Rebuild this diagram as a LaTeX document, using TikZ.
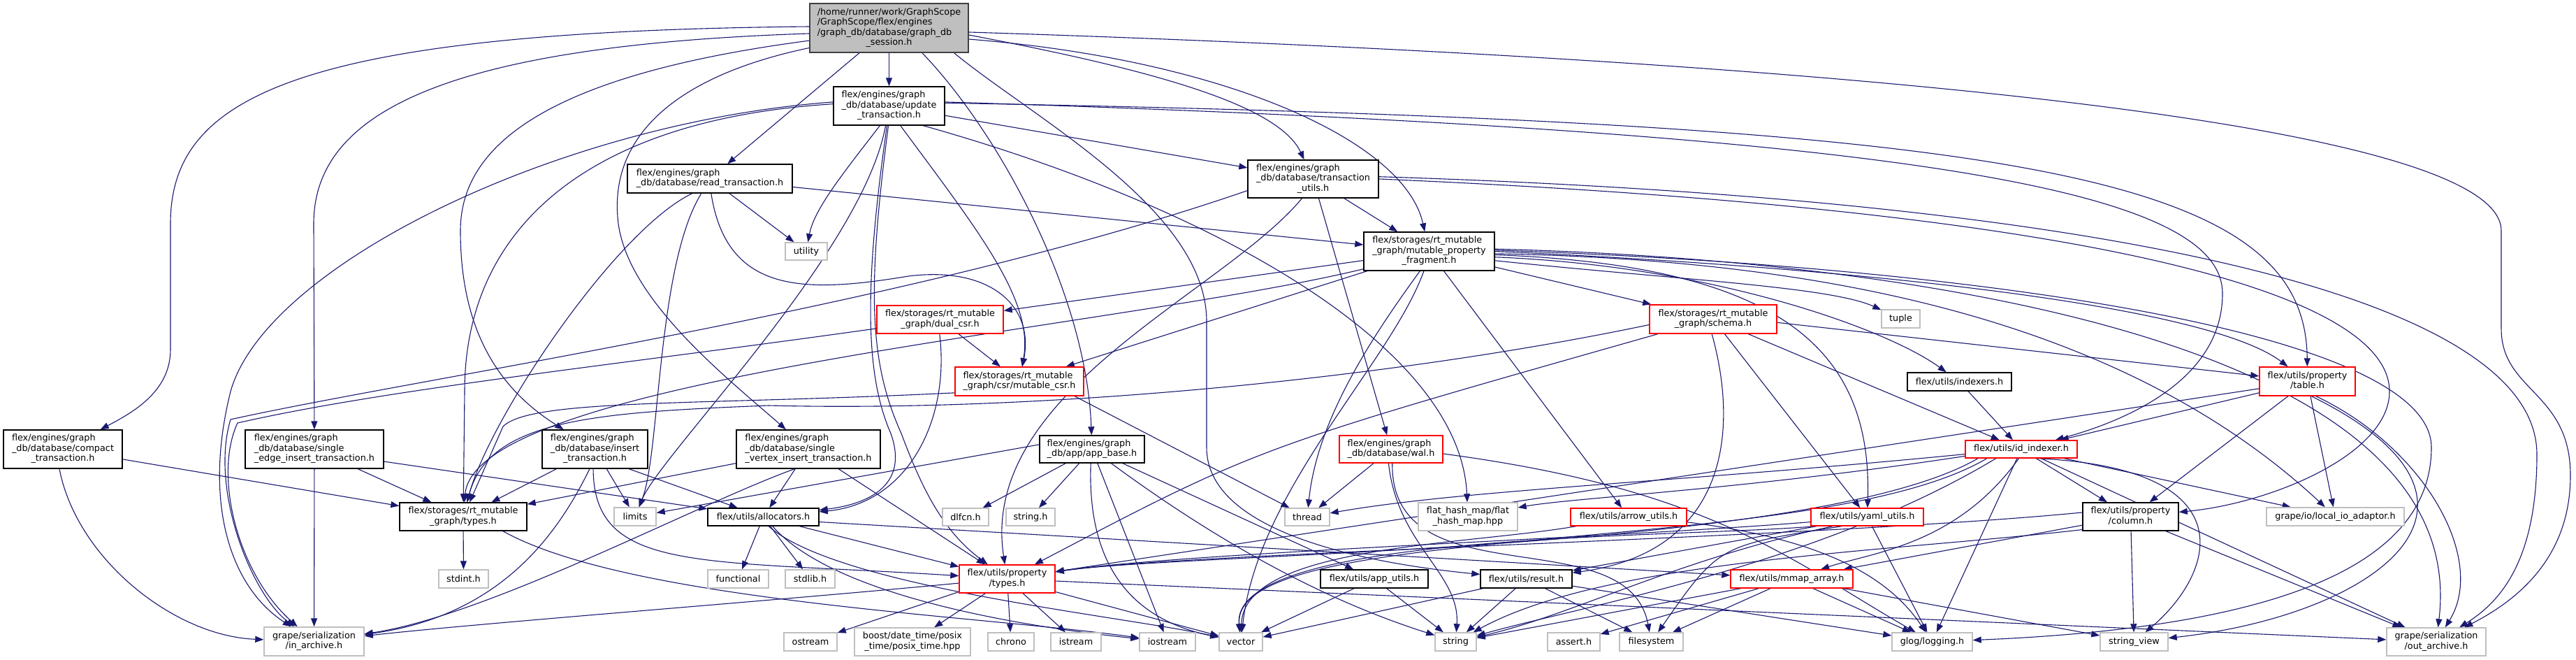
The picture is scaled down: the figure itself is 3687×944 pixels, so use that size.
\documentclass[tikz,border=0pt]{standalone}
\usepackage{fontspec}
\setmainfont{DejaVu Sans}
\usetikzlibrary{arrows.meta}
\definecolor{eblue}{HTML}{191970}
\definecolor{gbord}{HTML}{BFBFBF}
\definecolor{rootfill}{HTML}{BFBFBF}
\definecolor{rootbord}{HTML}{404040}
\newcommand\lbl[2]{\begin{tabular}{@{}l@{}}#1\\\multicolumn{1}{@{}c@{}}{#2}\end{tabular}}
\pgfdeclarelayer{bg}
\pgfsetlayers{bg,main}
\tikzset{
  base/.style={rectangle, line width=1.4pt, inner sep=0pt, font=\fontsize{12.8}{14.5}\selectfont, text=black},
  nb/.style={base, draw=black, fill=white},
  nr/.style={base, draw=red, fill=white},
  ng/.style={base, draw=gbord, fill=white},
  nroot/.style={base, draw=rootbord, fill=rootfill},
  edg/.style={draw=eblue, line width=1.1pt, -{Triangle[length=12pt,width=9pt]}}
}
\begin{document}
\begin{tikzpicture}[x=1pt,y=-1pt]
\useasboundingbox (0,0) rectangle (3687,944);
% nodes
\node[nroot,minimum width=227pt,minimum height=70pt] (root) at (1272.5,40) {\lbl{/home/runner/work/GraphScope\\/GraphScope/flex/engines\\/graph\_db/database/graph\_db}{\_session.h}};
\node[nb,minimum width=159pt,minimum height=55pt] (upd) at (1272.5,151.5) {\lbl{flex/engines/graph\\\_db/database/update}{\_transaction.h}};
\node[nb,minimum width=236pt,minimum height=41pt] (rd) at (1016,255.5) {\lbl{flex/engines/graph}{\_db/database/read\_transaction.h}};
\node[nb,minimum width=187pt,minimum height=54pt] (tut) at (1879.5,256) {\lbl{flex/engines/graph\\\_db/database/transaction}{\_utils.h}};
\node[nb,minimum width=187pt,minimum height=55pt] (mpf) at (2045.5,359.5) {\lbl{flex/storages/rt\_mutable\\\_graph/mutable\_property}{\_fragment.h}};
\node[ng,minimum width=60pt,minimum height=25pt] (util) at (1154,359.5) {utility};
\node[nr,minimum width=181pt,minimum height=40pt] (dcsr) at (1345.5,457) {\lbl{flex/storages/rt\_mutable}{\_graph/dual\_csr.h}};
\node[nr,minimum width=182pt,minimum height=41pt] (schema) at (2452,456.5) {\lbl{flex/storages/rt\_mutable}{\_graph/schema.h}};
\node[ng,minimum width=55pt,minimum height=26pt] (tuple) at (2720.5,456) {tuple};
\node[nr,minimum width=184pt,minimum height=41pt] (mcsr) at (1459,545.5) {\lbl{flex/storages/rt\_mutable}{\_graph/csr/mutable\_csr.h}};
\node[nb,minimum width=149pt,minimum height=26pt] (idxs) at (2804.5,546) {flex/utils/indexers.h};
\node[nr,minimum width=137pt,minimum height=41pt] (table) at (3302.5,545.5) {\lbl{flex/utils/property}{/table.h}};
\node[nb,minimum width=170pt,minimum height=55pt] (compact) at (90,642.5) {\lbl{flex/engines/graph\\\_db/database/compact}{\_transaction.h}};
\node[nb,minimum width=198pt,minimum height=55pt] (sedge) at (450,642.5) {\lbl{flex/engines/graph\\\_db/database/single}{\_edge\_insert\_transaction.h}};
\node[nb,minimum width=151pt,minimum height=55pt] (ins) at (851.5,642.5) {\lbl{flex/engines/graph\\\_db/database/insert}{\_transaction.h}};
\node[nb,minimum width=206pt,minimum height=55pt] (svtx) at (1157,642.5) {\lbl{flex/engines/graph\\\_db/database/single}{\_vertex\_insert\_transaction.h}};
\node[nb,minimum width=150pt,minimum height=39pt] (appb) at (1563,642.5) {\lbl{flex/engines/graph}{\_db/app/app\_base.h}};
\node[nr,minimum width=148pt,minimum height=39pt] (wal) at (1991,642.5) {\lbl{flex/engines/graph}{\_db/database/wal.h}};
\node[nr,minimum width=160pt,minimum height=25pt] (idx) at (2893,642.5) {flex/utils/id\_indexer.h};
\node[nb,minimum width=182pt,minimum height=40pt] (rtypes) at (663,739) {\lbl{flex/storages/rt\_mutable}{\_graph/types.h}};
\node[ng,minimum width=60pt,minimum height=26pt] (limits) at (909,739) {limits};
\node[nb,minimum width=159pt,minimum height=25pt] (alloc) at (1092.5,739.5) {flex/utils/allocators.h};
\node[ng,minimum width=66pt,minimum height=25pt] (dlfcn) at (1382,739.5) {dlfcn.h};
\node[ng,minimum width=70pt,minimum height=25pt] (strh) at (1475,739.5) {string.h};
\node[ng,minimum width=64pt,minimum height=25pt] (thread) at (1871,739.5) {thread};
\node[ng,minimum width=142pt,minimum height=40pt] (flat) at (2101,739) {\lbl{flat\_hash\_map/flat}{\_hash\_map.hpp}};
\node[nr,minimum width=166pt,minimum height=25pt] (arrowu) at (2331,739.5) {flex/utils/arrow\_utils.h};
\node[nr,minimum width=161pt,minimum height=25pt] (yaml) at (2672.5,739.5) {flex/utils/yaml\_utils.h};
\node[nb,minimum width=137pt,minimum height=40pt] (column) at (3049.5,739) {\lbl{flex/utils/property}{/column.h}};
\node[ng,minimum width=197pt,minimum height=26pt] (localio) at (3342.5,739) {grape/io/local\_io\_adaptor.h};
\node[ng,minimum width=71pt,minimum height=26pt] (stdint) at (663.5,828) {stdint.h};
\node[ng,minimum width=87pt,minimum height=26pt] (functional) at (1056.5,828) {functional};
\node[ng,minimum width=71pt,minimum height=26pt] (stdlib) at (1159.5,828) {stdlib.h};
\node[nr,minimum width=137pt,minimum height=40pt] (ptypes) at (1441.5,828) {\lbl{flex/utils/property}{/types.h}};
\node[nb,minimum width=154pt,minimum height=26pt] (appu) at (1967,828) {flex/utils/app\_utils.h};
\node[nb,minimum width=131pt,minimum height=26pt] (result) at (2184.5,828) {flex/utils/result.h};
\node[nr,minimum width=175pt,minimum height=26pt] (mmap) at (2564.5,828) {flex/utils/mmap\_array.h};
\node[ng,minimum width=143pt,minimum height=41pt] (inarch) at (449.5,917.5) {\lbl{grape/serialization}{/in\_archive.h}};
\node[ng,minimum width=76pt,minimum height=26pt] (ostream) at (1160,918) {ostream};
\node[ng,minimum width=166pt,minimum height=40pt] (boost) at (1306,918) {\lbl{boost/date\_time/posix}{\_time/posix\_time.hpp}};
\node[ng,minimum width=66pt,minimum height=26pt] (chrono) at (1447,918) {chrono};
\node[ng,minimum width=72pt,minimum height=26pt] (istream) at (1540,918) {istream};
\node[ng,minimum width=80pt,minimum height=26pt] (iostream) at (1671,918) {iostream};
\node[ng,minimum width=62pt,minimum height=26pt] (vector) at (1776,918) {vector};
\node[ng,minimum width=59pt,minimum height=26pt] (string) at (2083.5,918) {string};
\node[ng,minimum width=75pt,minimum height=26pt] (asserth) at (2252.5,918) {assert.h};
\node[ng,minimum width=91pt,minimum height=26pt] (fs) at (2363.5,918) {filesystem};
\node[ng,minimum width=115pt,minimum height=26pt] (glog) at (2765.5,918) {glog/logging.h};
\node[ng,minimum width=97pt,minimum height=26pt] (sview) at (3054.5,918) {string\_view};
\node[ng,minimum width=142pt,minimum height=40pt] (outarch) at (3487,918) {\lbl{grape/serialization}{/out\_archive.h}};

\begin{pgfonlayer}{bg}
\fill[white] (0,0) rectangle (3687,944);
% root
\draw[edg] (root.179) .. controls (420,45) and (244,140) .. (244,320) -- (244,500) .. controls (244,560) and (190,590) .. (compact);
\draw[edg] (root.184) .. controls (640,65) and (449,160) .. (449,320) -- (sedge);
\draw[edg] (root.189) .. controls (800,105) and (659,200) .. (659,330) .. controls (659,480) and (720,560) .. (ins);
\draw[edg] (root.194) .. controls (960,110) and (870,200) .. (885,320) .. controls (900,430) and (1040,540) .. (svtx);
\draw[edg] (root) -- (rd);
\draw[edg] (root) -- (upd);
\draw[edg] (root.-37) .. controls (1430,190) and (1555,420) .. (appb);
\draw[edg] (root.-3) .. controls (2300,75) and (3580,150) .. (3580,330) -- (3580,470) .. controls (3580,560) and (3679,560) .. (3679,680) .. controls (3679,800) and (3600,860) .. (outarch);
\draw[edg] (root.-5) .. controls (1650,100) and (1830,150) .. (tut);
\draw[edg] (root.-8) .. controls (1750,85) and (2010,200) .. (mpf);
\draw[edg] (root.-21) .. controls (1480,170) and (1727,300) .. (1727,460) -- (1727,640) .. controls (1727,760) and (1950,805) .. (result);
% update_transaction
\draw[edg] (upd.-115) .. controls (1205,250) and (1165,300) .. (util);
\draw[edg] (upd.-100) .. controls (1235,360) and (945,650) .. (limits);
\draw[edg] (upd.176) .. controls (800,175) and (380,380) .. (330,560) .. controls (290,720) and (330,840) .. (inarch);
\draw[edg] (upd.178) .. controls (850,170) and (665,320) .. (665,560) -- (rtypes);
\draw[edg] (upd.-96) .. controls (1235,420) and (1240,540) .. (1275,620) .. controls (1300,690) and (1250,720) .. (alloc);
\draw[edg] (upd.-92) .. controls (1240,420) and (1245,520) .. (1290,620) .. controls (1320,700) and (1350,760) .. (ptypes);
\draw[edg] (upd.-60) .. controls (1400,330) and (1480,430) .. (mcsr);
\draw[edg] (upd.-30) .. controls (1750,300) and (2090,500) .. (flat);
\draw[edg] (upd) -- (tut);
\draw[edg] (upd.3) .. controls (2900,175) and (3300,250) .. (table);
\draw[edg] (upd.4) .. controls (2800,190) and (3181,280) .. (3181,420) .. controls (3181,540) and (3050,600) .. (idx);
% read_transaction
\draw[edg] (rd) -- (util);
\draw[edg] (rd.-120) .. controls (940,380) and (945,650) .. (limits);
\draw[edg] (rd.-140) .. controls (880,330) and (700,600) .. (rtypes);
\draw[edg] (rd) -- (mpf);
\draw[edg] (rd.-85) .. controls (1040,420) and (1150,420) .. (1300,395) .. controls (1420,380) and (1480,440) .. (mcsr);
% transaction_utils
\draw[edg] (tut) -- (mpf);
\draw[edg] (tut) -- (wal);
\draw[edg] (tut.-170) .. controls (1300,440) and (600,540) .. (330,600) .. controls (300,700) and (360,850) .. (inarch);
\draw[edg] (tut.-120) .. controls (1750,420) and (1400,560) .. (ptypes);
\draw[edg] (tut.2) .. controls (3000,285) and (3631,420) .. (3631,650) .. controls (3631,800) and (3580,860) .. (outarch);
\draw[edg] (tut.0) .. controls (3000,300) and (3420,420) .. (3420,560) .. controls (3420,650) and (3250,720) .. (column);
% mutable_property_fragment
\draw[edg] (mpf) -- (dcsr);
\draw[edg] (mpf) -- (mcsr);
\draw[edg] (mpf.-165) .. controls (1600,470) and (680,540) .. (rtypes);
\draw[edg] (mpf.-115) .. controls (1965,480) and (1885,600) .. (thread);
\draw[edg] (mpf.-105) .. controls (1990,520) and (1800,700) .. (vector);
\draw[edg] (mpf) -- (arrowu);
\draw[edg] (mpf) -- (schema);
\draw[edg] (mpf.-8) .. controls (2400,400) and (2620,410) .. (tuple);
\draw[edg] (mpf.-5) .. controls (2450,380) and (2700,470) .. (idxs);
\draw[edg] (mpf.-3) .. controls (2550,380) and (2680,500) .. (yaml);
\draw[edg] (mpf.0) .. controls (2600,380) and (3150,430) .. (table);
\draw[edg] (mpf.-2) .. controls (2500,370) and (3000,420) .. (localio);
\draw[edg] (mpf.2) .. controls (2700,370) and (3540,480) .. (outarch);
\draw[edg] (mpf.1) .. controls (2800,380) and (3480,470) .. (3480,640) .. controls (3480,830) and (3200,900) .. (glog);
% dual_csr
\draw[edg] (dcsr) -- (mcsr);
\draw[edg] (dcsr.-172) .. controls (900,520) and (560,555) .. (340,605) .. controls (305,680) and (340,820) .. (inarch);
\draw[edg] (dcsr.-92) .. controls (1360,600) and (1300,720) .. (alloc);
% mutable_csr
\draw[edg] (mcsr.-170) .. controls (1000,580) and (760,570) .. (720,610) -- (rtypes);
\draw[edg] (mcsr.-15) -- (thread);
% schema
\draw[edg] (schema.-175) .. controls (2000,540) and (1500,590) .. (1100,580) .. controls (850,590) and (700,600) .. (rtypes);
\draw[edg] (schema.-165) .. controls (1800,640) .. (ptypes);
\draw[edg] (schema.-95) .. controls (2490,620) and (2470,790) .. (result);
\draw[edg] (schema) -- (yaml);
\draw[edg] (schema) -- (idx);
\draw[edg] (schema.-3) -- (table);
% indexers
\draw[edg] (idxs) -- (idx);
% table
\draw[edg] (table) -- (idx);
\draw[edg] (table) -- (column);
\draw[edg] (table) -- (localio);
\draw[edg] (table.-60) .. controls (3470,640) and (3560,800) .. (outarch);
\draw[edg] (table.-75) .. controls (3620,720) and (3400,880) .. (sview);
\draw[edg] (table) -- (ptypes);
% compact
\draw[edg] (compact) -- (rtypes);
\draw[edg] (compact.-100) .. controls (110,800) and (250,910) .. (inarch);
% single edge
\draw[edg] (sedge) -- (rtypes);
\draw[edg] (sedge) -- (inarch);
\draw[edg] (sedge.-10) -- (alloc);
% insert
\draw[edg] (ins) -- (rtypes);
\draw[edg] (ins) -- (limits);
\draw[edg] (ins.-30) -- (alloc);
\draw[edg] (ins.-105) .. controls (800,760) and (720,880) .. (inarch);
\draw[edg] (ins.-95) .. controls (850,820) and (1000,800) .. (ptypes);
% single vertex
\draw[edg] (svtx) -- (rtypes);
\draw[edg] (svtx.-125) .. controls (1000,720) and (700,880) .. (inarch);
\draw[edg] (svtx) -- (alloc);
\draw[edg] (svtx) -- (ptypes);
% app_base
\draw[edg] (appb.175) -- (limits);
\draw[edg] (appb) -- (dlfcn);
\draw[edg] (appb) -- (strh);
\draw[edg] (appb.-95) .. controls (1555,830) and (1640,890) .. (vector);
\draw[edg] (appb) .. controls (1750,780) and (1900,860) .. (string);
\draw[edg] (appb) -- (appu);
\draw[edg] (appb) -- (iostream);
% wal
\draw[edg] (wal) -- (thread);
\draw[edg] (wal.-100) .. controls (2000,780) and (2090,820) .. (string);
\draw[edg] (wal.-85) .. controls (1990,860) and (2330,740) .. (fs);
\draw[edg] (wal.-5) .. controls (2450,700) and (2560,800) .. (glog);
% app_utils
\draw[edg] (appu) -- (vector);
\draw[edg] (appu) -- (string);
% result
\draw[edg] (result) -- (vector);
\draw[edg] (result) -- (string);
\draw[edg] (result) -- (fs);
\draw[edg] (result) -- (glog);
% mmap
\draw[edg] (mmap) -- (asserth);
\draw[edg] (mmap) -- (string);
\draw[edg] (mmap) -- (fs);
\draw[edg] (mmap) -- (glog);
\draw[edg] (mmap) -- (sview);
% arrow utils
\draw[edg] (arrowu) .. controls (2100,780) and (1780,780) .. (vector);
\draw[edg] (arrowu.-5) .. controls (2600,770) and (2700,820) .. (glog);
% yaml
\draw[edg] (yaml) -- (result);
\draw[edg] (yaml.-165) .. controls (2400,800) and (2250,880) .. (string);
\draw[edg] (yaml.-170) .. controls (2400,770) and (1760,760) .. (vector);
\draw[edg] (yaml.-160) .. controls (2460,780) .. (fs);
\draw[edg] (yaml) -- (glog);
\draw[edg] (yaml.-175) .. controls (2300,770) and (1700,790) .. (ptypes);
% id_indexer
\draw[edg] (idx.-175) .. controls (2400,690) and (2100,700) .. (thread);
\draw[edg] (idx.-173) .. controls (2500,700) and (2250,712) .. (flat);
\draw[edg] (idx.-168) .. controls (2600,790) and (1700,790) .. (ptypes);
\draw[edg] (idx.-165) .. controls (2600,800) and (1760,740) .. (vector);
\draw[edg] (idx.-160) .. controls (2600,810) and (2250,870) .. (string);
\draw[edg] (idx.-105) .. controls (2800,780) and (2680,790) .. (mmap);
\draw[edg] (idx) -- (glog);
\draw[edg] (idx) -- (column);
\draw[edg] (idx) -- (localio);
\draw[edg] (idx) -- (outarch);
\draw[edg] (idx.-30) .. controls (3220,670) and (3170,820) .. (sview);
% column
\draw[edg] (column.175) .. controls (2600,770) and (1700,790) .. (ptypes);
\draw[edg] (column.-170) -- (mmap);
\draw[edg] (column.-165) .. controls (2700,790) and (2300,800) .. (string);
\draw[edg] (column) -- (sview);
\draw[edg] (column) -- (outarch);
% property types
\draw[edg] (ptypes.-165) -- (ostream);
\draw[edg] (ptypes) -- (boost);
\draw[edg] (ptypes) -- (chrono);
\draw[edg] (ptypes) -- (istream);
\draw[edg] (ptypes.-15) -- (vector);
\draw[edg] (ptypes.-175) .. controls (1100,860) and (700,890) .. (inarch);
\draw[edg] (ptypes) -- (outarch);
% allocators
\draw[edg] (alloc) -- (functional);
\draw[edg] (alloc) -- (stdlib);
\draw[edg] (alloc.-60) .. controls (1200,840) and (1600,880) .. (vector);
\draw[edg] (alloc.-45) .. controls (1200,860) and (1500,900) .. (iostream);
\draw[edg] (alloc.-5) -- (mmap);
\draw[edg] (alloc) -- (ptypes);
% rt types
\draw[edg] (rtypes) -- (stdint);
\draw[edg] (rtypes.-20) .. controls (900,860) and (1400,880) .. (iostream);
\end{pgfonlayer}
\end{tikzpicture}
\end{document}
